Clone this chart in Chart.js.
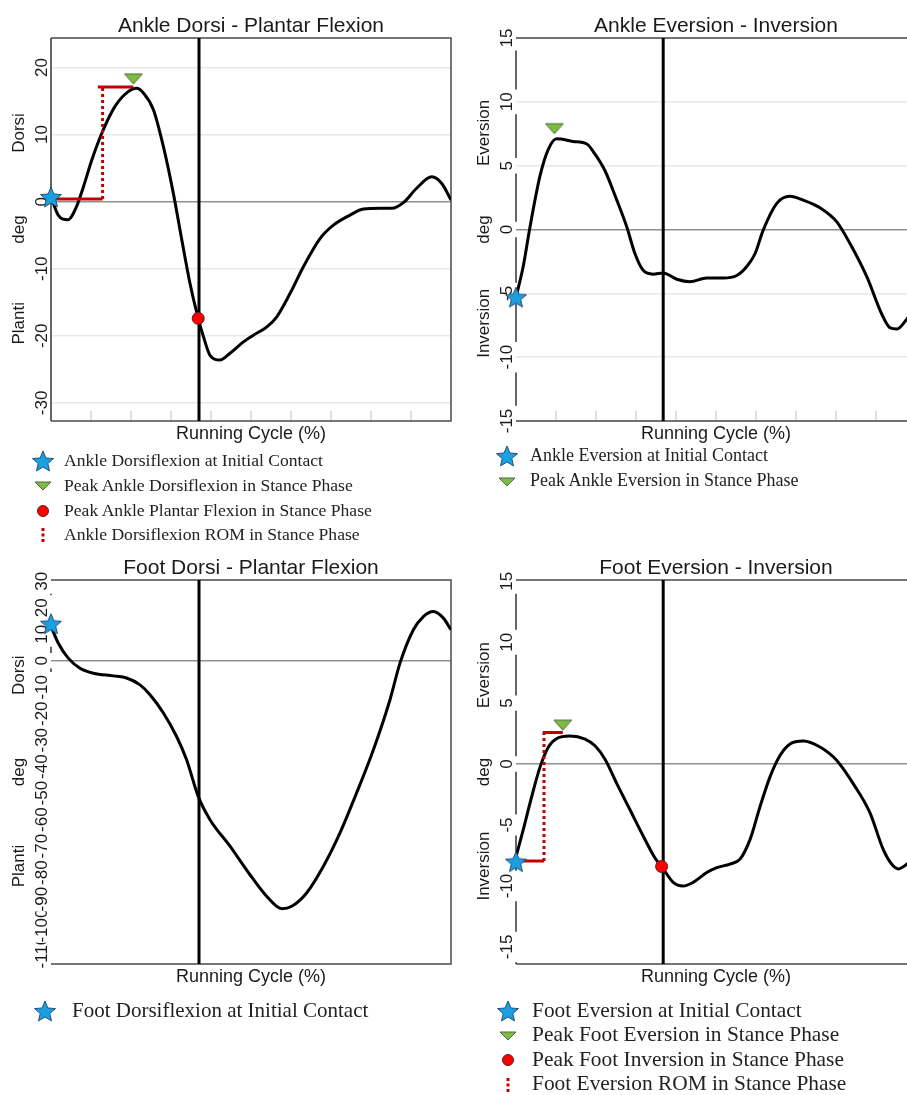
<!DOCTYPE html>
<html>
<head>
<meta charset="utf-8">
<script src="https://cdn.jsdelivr.net/npm/chart.js@4.4.0/dist/chart.umd.min.js"></script>
<style>
body{margin:0;background:#fff;overflow:hidden;width:907px;height:1095px;position:relative}
canvas{position:absolute}
.leg{position:absolute;font-family:"Liberation Serif","Times New Roman",serif;color:#222;white-space:nowrap}
.sym{position:absolute}
</style>
</head>
<body>
<canvas id="c1" width="460" height="450" style="left:0;top:0"></canvas>
<canvas id="c2" width="470" height="450" style="left:460px;top:0"></canvas>
<canvas id="c3" width="460" height="450" style="left:0;top:550px"></canvas>
<canvas id="c4" width="470" height="450" style="left:460px;top:550px"></canvas>
<div id="legends"></div>
<script>
// running cycle in %, ticks every 10
const cycleTicks=[0,10,20,30,40,50,60,70,80,90,100];

// Ankle Dorsi - Plantar Flexion
const ankleDP_x=[0,1.8,4.2,6.4,8.1,10.2,12.7,16,19.3,21.4,23.1,25.6,28.1,30.6,32.7,34.75,36.8,38.1,39.75,42.25,44.75,48.1,50.6,53.9,56.4,59.75,63.1,67.25,70.6,74.75,78.1,82.25,85.2,88.1,91.4,95.2,97.7,100];
const ankleDP_y=[0.7,-2,-2.7,-0.7,2.2,6.2,10.2,14.2,16.4,16.9,16.2,13.7,8.2,1.2,-5.7,-12.2,-17.4,-20.1,-22.9,-23.6,-22.6,-20.9,-19.9,-18.7,-17.2,-13.7,-9.7,-5.5,-3.5,-2,-1.1,-1.0,-1.0,-0.15,2.0,3.7,2.7,0.25];
const ankleDP_ticks=[-30,-20,-10,0,10,20];
const ankleDP_range=[-32.7,24.4];
const ankleDP_ic=[0,0.7];
const ankleDP_peak=[20.6,18.3];
const ankleDP_low=[36.8,-17.4];
const ankleDP_romX=[0,12.9,11.7,20.6];
const ankleDP_romY=[0.4,17.1];
const ankleDP_stance=37;

// Ankle Eversion - Inversion
const ankleEI_x=[0,1.8,3.5,6,8.1,10.2,14.3,17.7,19.75,22.25,25.2,27.7,29.75,31.8,34.3,36.8,40.2,43.5,47.7,51.8,55.2,57.7,59.75,61.8,65.2,68.5,71.8,76,80.2,83.5,87.7,91.4,93.5,95.2,97.75,100];
const ankleEI_y=[-5.3,-2.9,0.2,4.2,6.3,7.1,6.9,6.7,5.9,4.6,2.3,0.2,-1.9,-3.2,-3.5,-3.4,-3.9,-4.1,-3.8,-3.8,-3.6,-2.9,-1.9,-0.05,2.05,2.6,2.3,1.7,0.6,-1.1,-3.7,-6.6,-7.7,-7.8,-7.0,-6.0];
const ankleEI_ticks=[-15,-10,-5,0,5,10,15];
const ankleEI_range=[-15,15];
const ankleEI_ic=[0,-5.3];
const ankleEI_peak=[9.6,7.9];
const ankleEI_stance=36.8;

// Foot Dorsi - Plantar Flexion
const footDP_x=[0,1.8,4.3,7.25,10.6,15.6,18.9,22.25,24.75,28.1,31.4,33.9,36.8,39.75,44.75,49.75,53.9,57.7,60.2,63.9,68.1,72.25,76.4,80.6,84.75,87.25,90.6,93.1,95.6,98.1,100];
const footDP_y=[13,6.7,1.0,-2.8,-4.7,-5.7,-6.5,-9.1,-12.8,-19.7,-28.6,-37.4,-51.2,-60,-70,-80.8,-88.9,-93.6,-92.7,-87.7,-77.6,-65,-49.9,-33.6,-14.7,-0.9,11.7,16.7,18.6,16.1,11.7];
const footDP_ticks=[-110,-100,-90,-80,-70,-60,-50,-40,-30,-20,-10,0,10,20,30];
const footDP_range=[-114.5,30.5];
const footDP_ic=[0,14];
const footDP_stance=37;

// Foot Eversion - Inversion
const footEI_x=[0,1.8,3.9,6,8.1,10.2,13.5,17.25,19.75,22.25,25.2,28.5,31.8,34.75,36.4,39.3,41.8,44.3,47.7,50.2,53.5,56,58.5,61,63.5,66,68.5,71.8,76,80.2,84.3,88.5,91.8,93.9,95.6,97.75,100];
const footEI_y=[-7.6,-5.4,-2.7,-0.25,1.4,2.1,2.3,2.05,1.5,0.4,-1.6,-3.75,-5.9,-7.7,-8.4,-9.7,-10.0,-9.7,-8.9,-8.5,-8.2,-7.8,-6.2,-3.5,-1.05,0.7,1.65,1.9,1.4,0.3,-1.6,-4.0,-7.0,-8.2,-8.6,-8.2,-7.5];
const footEI_ticks=[-15,-10,-5,0,5,10,15];
const footEI_range=[-16.4,15.1];
const footEI_ic=[0,-8.0];
const footEI_peak=[11.7,3.2];
const footEI_low=[36.4,-8.4];
const footEI_romX=[0,7.0,6.7,11.7];
const footEI_romY=[-7.95,2.6];
const footEI_stance=36.8;

const ankleDP_legend=["Ankle Dorsiflexion at Initial Contact","Peak Ankle Dorsiflexion in Stance Phase","Peak Ankle Plantar Flexion in Stance Phase","Ankle Dorsiflexion ROM in Stance Phase"];
const ankleEI_legend=["Ankle Eversion at Initial Contact","Peak Ankle Eversion in Stance Phase"];
const footDP_legend=["Foot Dorsiflexion at Initial Contact"];
const footEI_legend=["Foot Eversion at Initial Contact","Peak Foot Eversion in Stance Phase","Peak Foot Inversion in Stance Phase","Foot Eversion ROM in Stance Phase"];

const STAR="#1a9fe0", STAR_EDGE="#23507c", TRI="#7dbb42", TRI_EDGE="#4f6a3c", DOT="#ff0000", DOT_EDGE="#5a2020", ROM="#c00000";
const SANS='"Liberation Sans", Arial, sans-serif';

function pts(xs,ys){ return xs.map((x,i)=>({x,y:ys[i]})); }

function starPath(g,cx,cy,r){
  g.beginPath();
  for(let i=0;i<10;i++){ const a=-Math.PI/2+i*Math.PI/5; const rr=i%2?r*0.45:r; g.lineTo(cx+rr*Math.cos(a),cy+rr*Math.sin(a)); }
  g.closePath();
}
function starImg(r){
  const c=document.createElement("canvas"); const s=Math.ceil(r*2+4); c.width=s; c.height=s;
  const g=c.getContext("2d"); starPath(g,s/2,s/2+1,r);
  g.fillStyle=STAR; g.fill(); g.lineWidth=1; g.strokeStyle=STAR_EDGE; g.stroke(); return c;
}
function triImg(w,h){
  const c=document.createElement("canvas"); c.width=w+4; c.height=h+4;
  const g=c.getContext("2d"); g.beginPath(); g.moveTo(2,2); g.lineTo(w+2,2); g.lineTo(w/2+2,h+2); g.closePath();
  g.fillStyle=TRI; g.fill(); g.lineWidth=1; g.strokeStyle=TRI_EDGE; g.stroke(); return c;
}
const starPt=starImg(11), triPt=triImg(18,10);

// frame, gridline ticks, rotated tick labels and titles
const panelDecor={
  id:"panelDecor",
  beforeDatasetsDraw(chart,args,o){
    const {ctx,chartArea:a,scales:{x,y}}=chart;
    ctx.save();
    if(o.xTicks){
      ctx.strokeStyle="#d4d4d4"; ctx.lineWidth=1.5;
      cycleTicks.slice(1,-1).forEach(v=>{ const px=x.getPixelForValue(v); ctx.beginPath(); ctx.moveTo(px,a.bottom); ctx.lineTo(px,a.bottom-10); ctx.stroke(); });
    }
    ctx.font="17px "+SANS;
    const labs=o.ticks.map(v=>{ const py=y.getPixelForValue(v); const w=ctx.measureText(String(v)).width; return {v,py,w}; });
    ctx.strokeStyle="#4a4a4a"; ctx.lineWidth=1.5;
    ctx.beginPath();
    ctx.moveTo(a.left,a.top); ctx.lineTo(a.right,a.top); ctx.lineTo(a.right,a.bottom); ctx.lineTo(a.left,a.bottom);
    ctx.stroke();
    // left axis, broken by the label boxes where they touch it
    let segs=[[a.top,a.bottom]];
    if(o.gaps){
      labs.forEach(l=>{ const g0=l.py-l.w/2-3, g1=l.py+l.w/2+3; const n=[]; segs.forEach(s=>{ if(g1<=s[0]||g0>=s[1]) n.push(s); else { if(g0>s[0]) n.push([s[0],g0]); if(g1<s[1]) n.push([g1,s[1]]); } }); segs=n; });
    }
    ctx.strokeStyle="#333";
    segs.forEach(s=>{ ctx.beginPath(); ctx.moveTo(a.left,s[0]); ctx.lineTo(a.left,s[1]); ctx.stroke(); });
    const cx=a.left-10;
    ctx.textAlign="center"; ctx.textBaseline="middle";
    labs.forEach(l=>{
      ctx.save(); ctx.translate(cx,l.py); ctx.rotate(-Math.PI/2);
      ctx.fillStyle="#fff"; ctx.fillRect(-l.w/2,-8,l.w,16);
      ctx.fillStyle="#1a1a1a"; ctx.fillText(String(l.v),0,1);
      ctx.restore();
    });
    const mid=(a.left+a.right)/2;
    ctx.fillStyle="#1a1a1a";
    ctx.font="21px "+SANS; ctx.fillText(o.title,mid,a.top-12);
    ctx.font="18px "+SANS; ctx.fillText("Running Cycle (%)",mid,a.bottom+13);
    ctx.font="17px "+SANS;
    [0.248,0.5,0.745].forEach((f,i)=>{
      ctx.save(); ctx.translate(a.left-32,a.top+f*(a.bottom-a.top)); ctx.rotate(-Math.PI/2);
      ctx.fillText(o.yTitles[i],0,0); ctx.restore();
    });
    ctx.restore();
  }
};

function marker(p,style,extra){
  return Object.assign({data:[{x:p[0],y:p[1]}],showLine:false,pointStyle:style,pointRadius:8,clip:false,order:0},extra||{});
}

function makePanel(id,P){
  const ds=[];
  ds.push({data:pts(P.x,P.y),borderColor:"#000",borderWidth:3,pointRadius:0,cubicInterpolationMode:"monotone",order:5});
  ds.push({data:[{x:P.stance,y:P.range[0]},{x:P.stance,y:P.range[1]}],borderColor:"#000",borderWidth:3,pointRadius:0,order:6});
  if(P.romX){
    ds.push({data:[{x:P.romX[0],y:P.romY[0]},{x:P.romX[1],y:P.romY[0]},{x:P.romX[1],y:null},{x:P.romX[2],y:P.romY[1]},{x:P.romX[3],y:P.romY[1]}],
      borderColor:ROM,borderWidth:3,pointRadius:0,spanGaps:false,order:4});
    ds.push({data:[{x:P.romX[1],y:P.romY[0]},{x:P.romX[1],y:P.romY[1]}],borderColor:ROM,borderWidth:3,borderDash:[3,3],pointRadius:0,order:4});
  }
  if(P.low) ds.push(marker(P.low,"circle",{pointRadius:6,backgroundColor:DOT,borderColor:DOT_EDGE,borderWidth:1}));
  if(P.peak) ds.push(marker(P.peak,triPt));
  ds.push(marker(P.ic,starPt));
  return new Chart(document.getElementById(id),{
    type:"line",
    data:{datasets:ds},
    options:{
      responsive:false,animation:false,events:[],
      layout:{padding:{left:0,top:P.pad[0],right:P.pad[1],bottom:P.pad[2]}},
      plugins:{legend:{display:false},tooltip:{enabled:false},
        panelDecor:{title:P.title,yTitles:P.yTitles,ticks:P.ticks,gaps:P.gaps,xTicks:P.xTicks}},
      scales:{
        x:{type:"linear",min:0,max:100,display:false},
        y:{type:"linear",min:P.range[0],max:P.range[1],
          afterBuildTicks:s=>{ s.ticks=P.ticks.map(v=>({value:v})); },
          afterFit:s=>{ s.width=P.left; },
          ticks:{display:false},border:{display:false},
          grid:{drawTicks:false,lineWidth:1.5,color:c=>c.tick.value===0?"#8f8f8f":P.grid}}
      }
    },
    plugins:[panelDecor]
  });
}

makePanel("c1",{x:ankleDP_x,y:ankleDP_y,ticks:ankleDP_ticks,range:ankleDP_range,ic:ankleDP_ic,peak:ankleDP_peak,low:ankleDP_low,
  romX:ankleDP_romX,romY:ankleDP_romY,stance:ankleDP_stance,title:"Ankle Dorsi - Plantar Flexion",yTitles:["Dorsi","deg","Planti"],
  left:51,pad:[38,9,29],grid:"#e8e8e8",gaps:false,xTicks:true});
makePanel("c2",{x:ankleEI_x,y:ankleEI_y,ticks:ankleEI_ticks,range:ankleEI_range,ic:ankleEI_ic,peak:ankleEI_peak,
  stance:ankleEI_stance,title:"Ankle Eversion - Inversion",yTitles:["Eversion","deg","Inversion"],
  left:56,pad:[38,14,29],grid:"#e8e8e8",gaps:true,xTicks:true});
makePanel("c3",{x:footDP_x,y:footDP_y,ticks:footDP_ticks,range:footDP_range,ic:footDP_ic,
  stance:footDP_stance,title:"Foot Dorsi - Plantar Flexion",yTitles:["Dorsi","deg","Planti"],
  left:51,pad:[30,9,36],grid:"rgba(0,0,0,0)",gaps:true,xTicks:false});
makePanel("c4",{x:footEI_x,y:footEI_y,ticks:footEI_ticks,range:footEI_range,ic:footEI_ic,peak:footEI_peak,low:footEI_low,
  romX:footEI_romX,romY:footEI_romY,stance:footEI_stance,title:"Foot Eversion - Inversion",yTitles:["Eversion","deg","Inversion"],
  left:56,pad:[30,14,36],grid:"rgba(0,0,0,0)",gaps:true,xTicks:false});

// legends below each panel
function symSvg(kind){
  if(kind==="star"){
    let p=[]; for(let i=0;i<10;i++){ const a=-Math.PI/2+i*Math.PI/5; const r=i%2?5:11; p.push((12+r*Math.cos(a)).toFixed(1)+","+(13+r*Math.sin(a)).toFixed(1)); }
    return `<svg width="24" height="24"><polygon points="${p.join(" ")}" fill="${STAR}" stroke="${STAR_EDGE}" stroke-width="1"/></svg>`;
  }
  if(kind==="tri") return `<svg width="24" height="24"><polygon points="4,8 20,8 12,16" fill="${TRI}" stroke="${TRI_EDGE}" stroke-width="1"/></svg>`;
  if(kind==="dot") return `<svg width="24" height="24"><circle cx="12" cy="12" r="5.5" fill="${DOT}" stroke="${DOT_EDGE}" stroke-width="1"/></svg>`;
  return `<svg width="24" height="24"><rect x="10.5" y="5" width="3" height="3" fill="${ROM}"/><rect x="10.5" y="10.5" width="3" height="3" fill="${ROM}"/><rect x="10.5" y="16" width="3" height="3" fill="${ROM}"/></svg>`;
}
function legend(texts,symX,textX,y0,step,fs){
  const kinds=["star","tri","dot","rom"];
  let h="";
  texts.forEach((t,i)=>{
    const yc=y0+i*step;
    h+=`<div class="sym" style="left:${symX-12}px;top:${yc-12}px">${symSvg(kinds[i])}</div>`;
    h+=`<div class="leg" style="left:${textX}px;top:${yc-fs*0.62}px;font-size:${fs}px;line-height:${fs*1.2}px">${t}</div>`;
  });
  return h;
}
document.getElementById("legends").innerHTML=
  legend(ankleDP_legend,43,64,461,24.8,17.6)+
  legend(ankleEI_legend,507,530,456,25.5,18)+
  legend(footDP_legend,45,72,1011,24.5,21)+
  legend(footEI_legend,508,532,1011,24.5,21.4);
</script>
</body>
</html>
